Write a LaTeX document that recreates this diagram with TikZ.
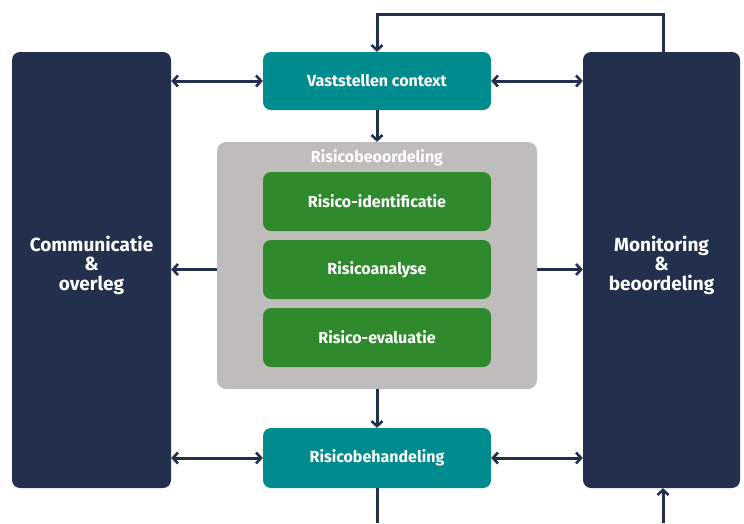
\documentclass[tikz,border=0pt]{standalone}
\usepackage{fontspec}
\setmainfont{Fira Sans}
\usetikzlibrary{arrows.meta,calc}
\definecolor{navy}{HTML}{22304D}
\definecolor{teal}{HTML}{008B8E}
\definecolor{lgray}{HTML}{BFBDBB}
\definecolor{green}{HTML}{2F8A2E}
\tikzset{
  side/.style={fill=navy, rounded corners=8pt, text=white, font=\bfseries\fontsize{19}{19.5}\selectfont, align=center, inner sep=0pt},
  tealbox/.style={fill=teal, rounded corners=8pt, text=white, font=\bfseries\fontsize{16}{18}\selectfont, minimum width=228pt, minimum height=59pt, inner sep=0pt},
  greenbox/.style={fill=green, rounded corners=8pt, text=white, font=\bfseries\fontsize{16}{18}\selectfont, minimum width=228pt, minimum height=59pt, inner sep=0pt},
  graybox/.style={fill=lgray, rounded corners=9pt, minimum width=320pt, minimum height=247pt, inner sep=0pt},
  conn/.style={draw=navy, line width=3pt},
  tip/.style={Straight Barb[length=5pt,width=11pt,line width=2.6pt]},
  arr/.style={conn, -{Straight Barb[length=5pt,width=11pt,line width=2.6pt]}},
  darr/.style={conn, {Straight Barb[length=5pt,width=11pt,line width=2.6pt]}-{Straight Barb[length=5pt,width=11pt,line width=2.6pt]}}
}
\begin{document}
\begin{tikzpicture}[x=1pt,y=-1pt]
\useasboundingbox (0,0) rectangle (744,523);
\node[side, minimum width=159pt, minimum height=436pt] (lc) at (91.5,270) {};
\node[side] (lt) at (91.5,265) {Communicatie\\\&\\overleg};
\node[side, minimum width=157pt, minimum height=436pt] (rc) at (661.5,270) {};
\node[side] (rt) at (661.5,265) {Monitoring\\\&\\beoordeling};
\node[tealbox, minimum height=58pt] (vc) at (377,81) {Vaststellen context};
\node[graybox] (gb) at (377,265.5) {};
\node[text=white, font=\bfseries\fontsize{16}{18}\selectfont] (gl) at (377,158) {Risicobeoordeling};
\node[greenbox] (g1) at (377,201.5) {Risico-identificatie};
\node[greenbox] (g2) at (377,269.5) {Risicoanalyse};
\node[greenbox] (g3) at (377,337.5) {Risico-evaluatie};
\node[tealbox, minimum height=60pt] (rb) at (377,458) {Risicobehandeling};
\coordinate (top) at (663,14);
\coordinate (b1) at (377,523);
\coordinate (b2) at (663,523);
% horizontal links
\draw[darr] (lc.east |- vc.west) -- (vc.west);
\draw[darr] (vc.east) -- (vc.east -| rc.west);
\draw[darr] (lc.east |- rb.west) -- (rb.west);
\draw[darr] (rb.east) -- (rb.east -| rc.west);
\draw[arr] (gb.west |- g2) -- (g2 -| lc.east);
\draw[arr] (gb.east |- g2) -- (g2 -| rc.west);
% vertical links
\draw[arr] (vc.south) -- (gb.north);
\draw[arr] (gb.south) -- (rb.north);
\draw[arr] (top |- rc.north) -- (top) -| (vc.north);
\draw[conn] (rb.south) -- (b1);
\draw[arr] (b2) -- (b2 |- rc.south);
\end{tikzpicture}
\end{document}
